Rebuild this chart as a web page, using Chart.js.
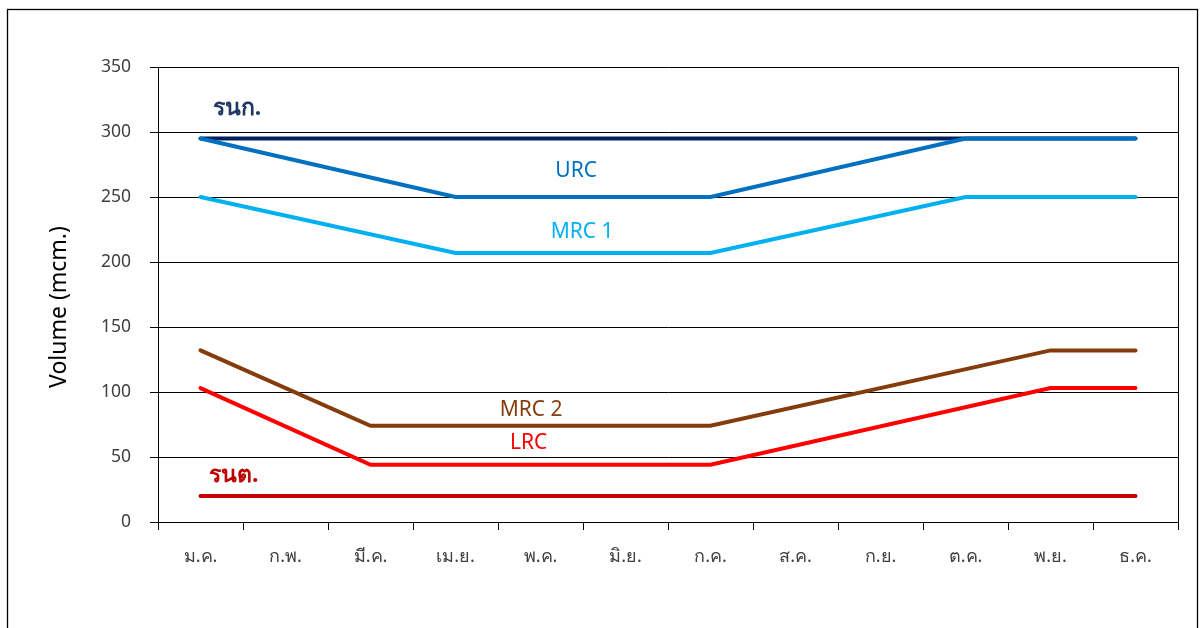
<!DOCTYPE html>
<html>
<head>
<meta charset="utf-8">
<script src="https://cdn.jsdelivr.net/npm/chart.js@4/dist/chart.umd.min.js"></script>
<style>
  html, body { margin: 0; padding: 0; background: #ffffff; }
  #wrap { width: 1200px; height: 628px; position: relative; }
</style>
</head>
<body>
<div id="wrap"><canvas id="ruleChart" width="1200" height="628"></canvas></div>
<script>
// Months (Thai abbreviations)
const months = ['ม.ค.', 'ก.พ.', 'มี.ค.', 'เม.ย.', 'พ.ค.', 'มิ.ย.', 'ก.ค.', 'ส.ค.', 'ก.ย.', 'ต.ค.', 'พ.ย.', 'ธ.ค.'];

// Rule curve values (mcm.), null = straight segment between known points
const upperStorage = [295, 295, 295, 295, 295, 295, 295, 295, 295, 295, 295, 295];
const urcValues = [295, null, null, 250, 250, 250, 250, null, null, 295, 295, 295];
const mrc1Values = [250, null, null, 207, 207, 207, 207, null, null, 250, 250, 250];
const mrc2Values = [132, null, 74, 74, 74, 74, 74, null, null, null, 132, 132];
const lrcValues = [103, null, 44, 44, 44, 44, 44, null, null, null, 103, 103];
const lowerStorage = [20, 20, 20, 20, 20, 20, 20, 20, 20, 20, 20, 20];

const yTicks = [0, 50, 100, 150, 200, 250, 300, 350];

// In-chart labels: text, month index, value, colour, bold
const curveLabels = [
  { text: 'รนก.', x: 0.43, y: 318, color: '#1f3864', bold: true, size: 23 },
  { text: 'URC', x: 4.42, y: 270, color: '#0070c0', bold: false, size: 21 },
  { text: 'MRC 1', x: 4.49, y: 223, color: '#00b0f0', bold: false, size: 21 },
  { text: 'MRC 2', x: 3.89, y: 86, color: '#843c0c', bold: false, size: 21 },
  { text: 'LRC', x: 3.86, y: 61, color: '#ff0000', bold: false, size: 21 },
  { text: 'รนต.', x: 0.39, y: 36, color: '#c00000', bold: true, size: 23 }
];

const FONT = '"Noto Sans", Tahoma, sans-serif';

function lineSet(label, data, color) {
  return {
    label: label,
    data: data,
    borderColor: color,
    backgroundColor: color,
    borderWidth: 4,
    borderCapStyle: 'round',
    borderJoinStyle: 'miter',
    pointRadius: 0,
    tension: 0,
    spanGaps: true,
    fill: false
  };
}

// Frame, plot box, y title and curve labels
const decorPlugin = {
  id: 'decor',
  afterDraw: function(chart) {
    const ctx = chart.ctx;
    const area = chart.chartArea;
    const xs = chart.scales.x;
    const ys = chart.scales.y;
    ctx.save();

    // outer frame
    ctx.strokeStyle = '#000000';
    ctx.lineWidth = 1.3;
    ctx.strokeRect(7.5, 9.5, 1190, 660);

    // plot box right side
    ctx.lineWidth = 1;
    ctx.beginPath();
    ctx.moveTo(Math.round(area.right) + 0.5, area.top);
    ctx.lineTo(Math.round(area.right) + 0.5, area.bottom + 8);
    ctx.stroke();

    // y axis title
    ctx.save();
    ctx.translate(59, 307);
    ctx.rotate(-Math.PI / 2);
    ctx.fillStyle = '#000000';
    ctx.font = '23px ' + FONT;
    ctx.textAlign = 'center';
    ctx.textBaseline = 'middle';
    ctx.fillText('Volume (mcm.)', 0, 0);
    ctx.restore();

    // curve labels
    ctx.textAlign = 'center';
    ctx.textBaseline = 'middle';
    curveLabels.forEach(function(l) {
      ctx.fillStyle = l.color;
      ctx.font = (l.bold ? 'bold ' : '') + l.size + 'px ' + FONT;
      ctx.fillText(l.text, xs.getPixelForValue(l.x), ys.getPixelForValue(l.y));
    });
    ctx.restore();
  }
};

const ctx = document.getElementById('ruleChart').getContext('2d');
new Chart(ctx, {
  type: 'line',
  data: {
    labels: months,
    datasets: [
      lineSet('URC', urcValues, '#0070c0'),
      lineSet('รนก.', upperStorage, '#002060'),
      lineSet('MRC 1', mrc1Values, '#00b0f0'),
      lineSet('MRC 2', mrc2Values, '#843c0c'),
      lineSet('LRC', lrcValues, '#ff0000'),
      lineSet('รนต.', lowerStorage, '#c00000')
    ]
  },
  options: {
    responsive: false,
    animation: false,
    devicePixelRatio: 1,
    layout: {
      padding: { top: 67, right: 22, bottom: 0, left: 0 }
    },
    plugins: {
      legend: { display: false },
      tooltip: { enabled: false }
    },
    scales: {
      x: {
        type: 'category',
        offset: true,
        afterFit: function(scale) { scale.height = 106; },
        grid: {
          offset: true,
          drawOnChartArea: false,
          drawTicks: true,
          tickLength: 8,
          color: '#000000',
          lineWidth: 1
        },
        border: { color: '#000000', width: 1 },
        ticks: {
          color: '#404040',
          padding: 16,
          maxRotation: 0,
          font: { family: FONT, size: 18 }
        }
      },
      y: {
        min: 0,
        max: 350,
        afterFit: function(scale) { scale.width = 158; },
        afterBuildTicks: function(scale) {
          scale.ticks = yTicks.map(function(v) { return { value: v }; });
        },
        grid: {
          color: '#000000',
          lineWidth: 1,
          tickLength: 8,
          drawTicks: true
        },
        border: { color: '#000000', width: 1 },
        ticks: {
          color: '#404040',
          padding: 19,
          font: { family: FONT, size: 17.5 }
        }
      }
    }
  },
  plugins: [decorPlugin]
});
</script>
</body>
</html>
